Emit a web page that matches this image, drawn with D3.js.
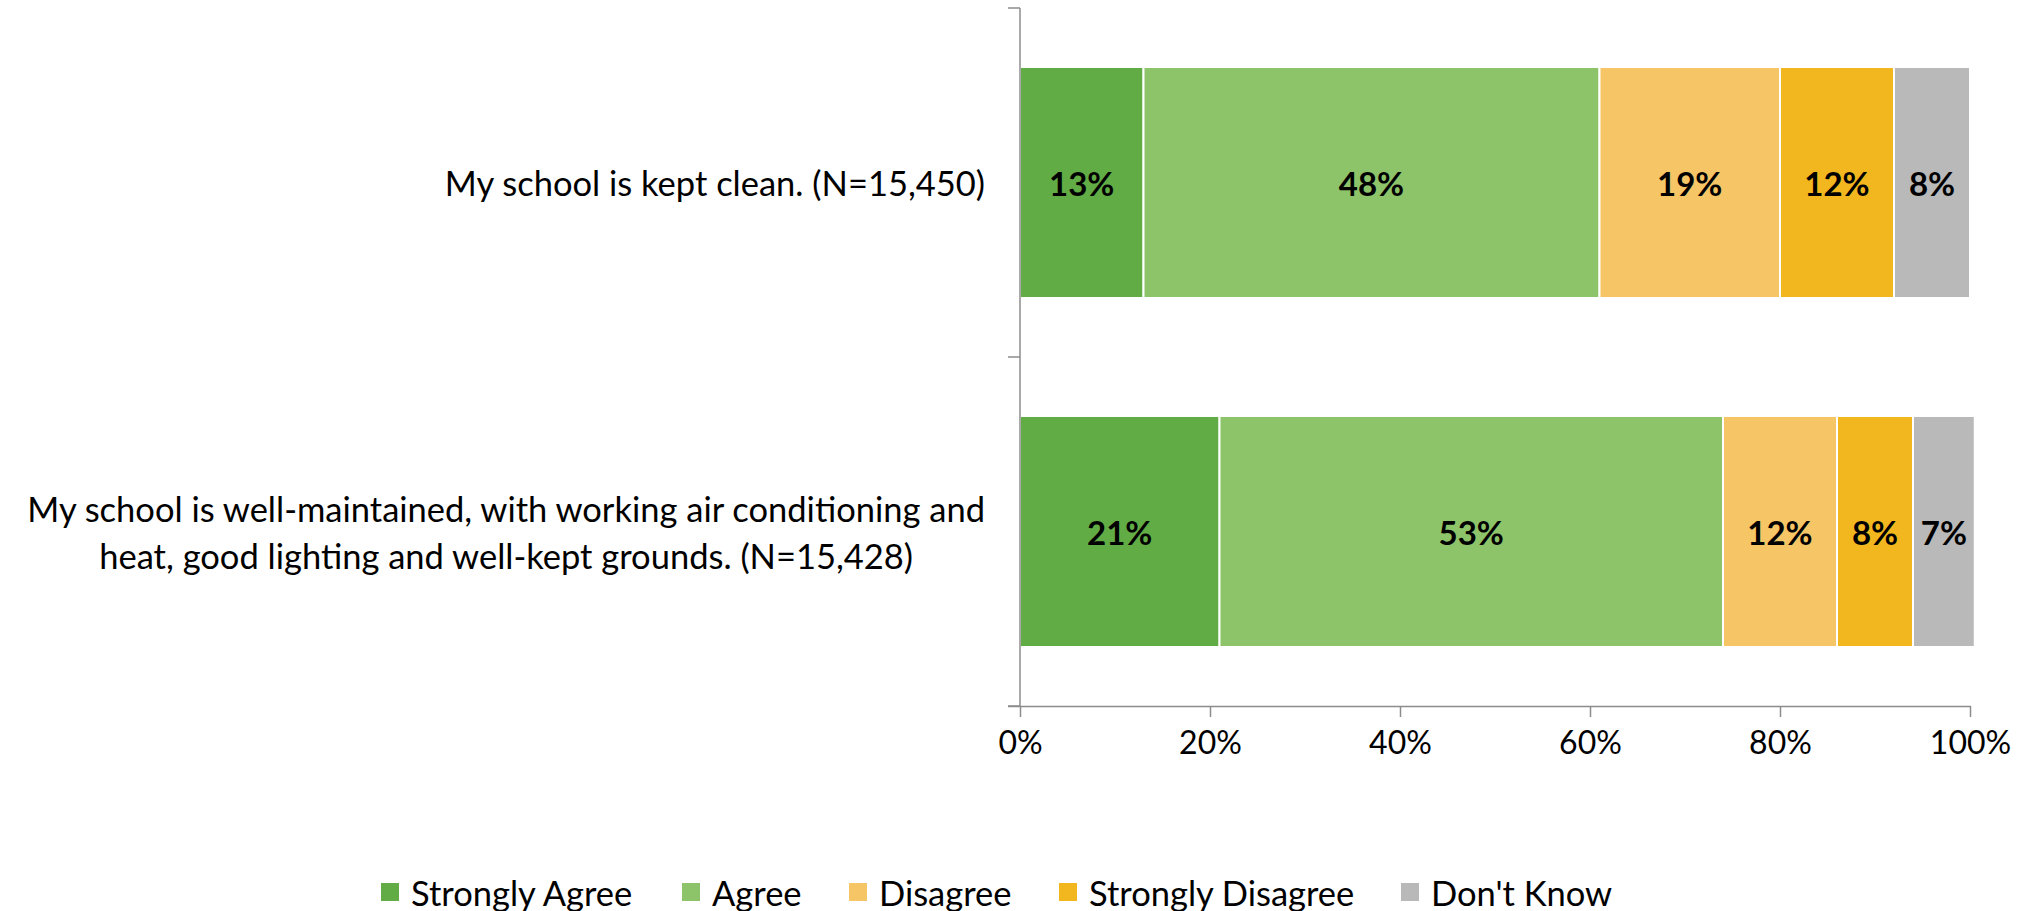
<!DOCTYPE html>
<html>
<head>
<meta charset="utf-8">
<script src="https://cdn.jsdelivr.net/npm/d3@7"></script>
<style>
  html, body { margin: 0; padding: 0; background: #fff; }
  svg { display: block; }
  text { font-family: Lato, "Open Sans", sans-serif; }
</style>
</head>
<body>
<svg id="chart" width="2030" height="911"></svg>
<script>
// ---- Data ----
const categories = [
  "My school is kept clean. (N=15,450)",
  "My school is well-maintained, with working air conditioning and heat, good lighting and well-kept grounds. (N=15,428)"
];
const categoryLines = [
  ["My school is kept clean. (N=15,450)"],
  ["My school is well-maintained, with working air conditioning and", "heat, good lighting and well-kept grounds. (N=15,428)"]
];
const seriesNames = ["Strongly Agree", "Agree", "Disagree", "Strongly Disagree", "Don't Know"];
const stronglyAgree = [13, 21];
const agree = [48, 53];
const disagree = [19, 12];
const stronglyDisagree = [12, 8];
const dontKnow = [8, 6.5];
const xTicks = [0, 0.2, 0.4, 0.6, 0.8, 1.0];
const colors = ["#62ac46", "#8dc46a", "#f6c566", "#f2b71e", "#b9b9b9"];

const seriesValues = [stronglyAgree, agree, disagree, stronglyDisagree, dontKnow];
const rows = categories.map((c, i) => {
  const r = { category: c, idx: i };
  seriesNames.forEach((s, j) => r[s] = seriesValues[j][i] / 100);
  return r;
});

// ---- Layout ----
const svg = d3.select("#chart");
const plotLeft = 1020, plotRight = 1970, plotTop = 8, plotBottom = 706;
const wordSize = 34.5, numSize = 33;

const x = d3.scaleLinear().domain([0, 1]).range([plotLeft, plotRight]);
const y = d3.scaleBand().domain(categories).range([plotTop, plotBottom])
  .paddingInner(0.338).paddingOuter(0.169);

const stack = d3.stack().keys(seriesNames);
const stacked = stack(rows);

const axisColor = "#8c8c8c";

// Bars
const g = svg.append("g");
stacked.forEach((layer, li) => {
  g.selectAll(null).data(layer).enter().append("rect")
    .attr("x", d => x(d[0]))
    .attr("y", d => y(d.data.category))
    .attr("width", d => x(d[1]) - x(d[0]))
    .attr("height", y.bandwidth())
    .attr("fill", colors[li])
    .attr("stroke", "#fff")
    .attr("stroke-width", 2);
  g.selectAll(null).data(layer).enter().append("text")
    .attr("x", d => (x(d[0]) + x(d[1])) / 2)
    .attr("y", d => y(d.data.category) + y.bandwidth() / 2)
    .attr("text-anchor", "middle")
    .attr("dominant-baseline", "central")
    .attr("font-size", numSize)
    .attr("font-weight", "bold")
    .attr("fill", "#000")
    .text(d => Math.round(seriesValues[li][d.data.idx]) + "%");
});

// X axis
const xAxis = d3.axisBottom(x).tickValues(xTicks).tickFormat(d3.format(".0%"))
  .tickSize(11).tickSizeOuter(0).tickPadding(14);
const xg = svg.append("g").attr("transform", `translate(0,${plotBottom})`).call(xAxis);
xg.select(".domain").attr("stroke", axisColor).attr("stroke-width", 1.5)
  .attr("d", `M${plotLeft - 12},0.5H${plotRight + 1}`);
xg.selectAll(".tick line").attr("stroke", axisColor).attr("stroke-width", 1.5);
xg.selectAll(".tick text").attr("font-size", 32).attr("fill", "#000")
  .attr("font-family", "Lato, 'Open Sans', sans-serif");

// Y axis line and ticks (between categories)
svg.append("line").attr("x1", plotLeft).attr("x2", plotLeft)
  .attr("y1", plotTop).attr("y2", plotBottom)
  .attr("stroke", axisColor).attr("stroke-width", 1.5);
const step = y.step();
const yTickPos = d3.range(categories.length + 1).map(i => plotTop + i * step);
svg.selectAll(null).data(yTickPos).enter().append("line")
  .attr("x1", plotLeft - 12).attr("x2", plotLeft)
  .attr("y1", d => d).attr("y2", d => d)
  .attr("stroke", axisColor).attr("stroke-width", 1.5);

// Category labels: block right-aligned, lines centered in block
const labelRight = 985, lineH = 47;
categoryLines.forEach((lines, i) => {
  const cy = y(categories[i]) + y.bandwidth() / 2;
  const grp = svg.append("g");
  const texts = lines.map((ln, k) => grp.append("text")
    .attr("y", cy + (k - (lines.length - 1) / 2) * lineH)
    .attr("dominant-baseline", "central")
    .attr("text-anchor", "middle")
    .attr("font-size", wordSize)
    .attr("fill", "#000")
    .text(ln));
  const maxW = d3.max(texts, t => t.node().getComputedTextLength());
  texts.forEach(t => t.attr("x", labelRight - maxW / 2));
});

// Legend
const legendY = 892;
const legendX = [381, 682, 849, 1059, 1401];
seriesNames.forEach((s, i) => {
  svg.append("rect").attr("x", legendX[i]).attr("y", legendY - 9)
    .attr("width", 18).attr("height", 18).attr("fill", colors[i]);
  svg.append("text").attr("x", legendX[i] + 30).attr("y", legendY)
    .attr("dominant-baseline", "central")
    .attr("font-size", wordSize).attr("fill", "#000").text(s);
});
</script>
</body>
</html>
